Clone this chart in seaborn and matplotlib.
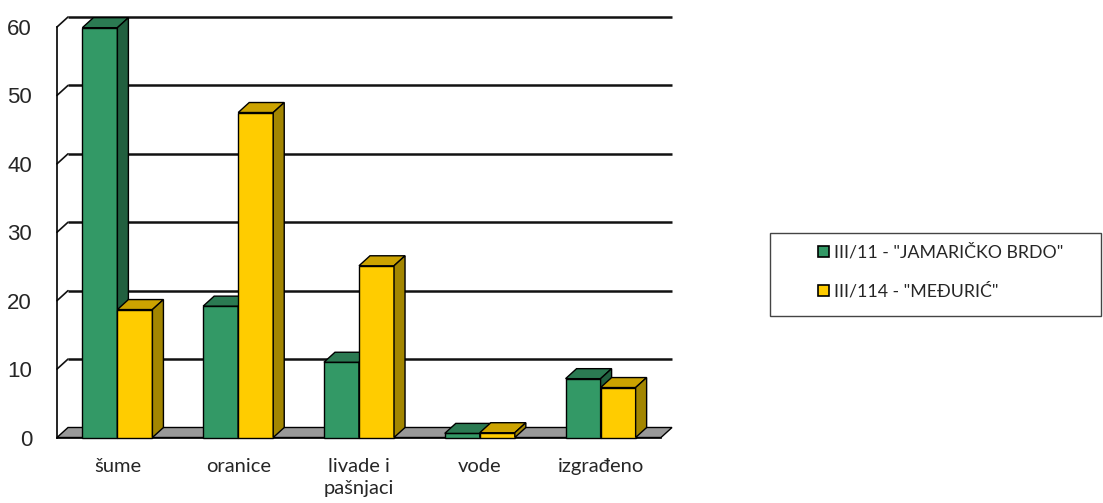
import pandas as pd
import matplotlib.pyplot as plt
import seaborn as sns
from matplotlib.patches import Polygon, Rectangle, Patch

# ---- Data (udio površina, %) ----
categories = ["šume", "oranice", "livade i\npašnjaci", "vode", "izgrađeno"]
series_names = ['III/11 - "JAMARIČKO BRDO"', 'III/114 - "MEĐURIĆ"']
jamaricko = [59.9, 19.2, 11.0, 0.6, 8.6]
meduric = [18.7, 47.5, 25.1, 0.7, 7.3]
y_ticks = [0, 10, 20, 30, 40, 50, 60]

df = pd.DataFrame({
    "kategorija": categories * 2,
    "udio": jamaricko + meduric,
    "zona": [series_names[0]] * len(categories) + [series_names[1]] * len(categories),
})

# front / top / side shades for the fake 3D look
front = ["#339966", "#FFCC00"]
top = ["#2B7A52", "#CCA300"]
side = ["#21603F", "#A38600"]

sns.set_style("white")
cat_font = ["Lato", "DejaVu Sans"]
num_font = ["Liberation Sans", "DejaVu Sans"]

fig = plt.figure(figsize=(11.03, 5.03), dpi=100)
ax = fig.add_axes([57 / 1103, 65.5 / 503, 604 / 1103, 410.5 / 503])

sns.barplot(data=df, x="kategorija", y="udio", hue="zona", palette=front,
            width=0.58, saturation=1, edgecolor="black", linewidth=1,
            legend=False, ax=ax)

ax.set_xlim(-0.5, len(categories) - 0.5)
ax.set_ylim(0, 60)

# depth offset in data units (about 11 px right, 10 px up)
dx = 11 / (604 / len(categories))
dy = 10 / (410.5 / 60)
x0, x1 = ax.get_xlim()

# floor
ax.add_patch(Polygon([(x0, 0), (x1, 0), (x1 + dx, dy), (x0 + dx, dy)],
                     closed=True, facecolor="#999999", edgecolor="black",
                     linewidth=1, zorder=1.5, clip_on=False))

# back wall gridlines + left wall diagonals
for yt in y_ticks[1:]:
    ax.plot([x0 + dx, x1 + dx], [yt + dy, yt + dy], color="#111111", lw=1.8,
            zorder=1, clip_on=False, solid_capstyle="butt")
    ax.plot([x0, x0 + dx], [yt, yt + dy], color="#111111", lw=1.2,
            zorder=1, clip_on=False)

# top and side faces for each bar
for rect in list(ax.patches):
    if not isinstance(rect, Rectangle):
        continue
    fc = rect.get_facecolor()
    idx = 0 if abs(fc[0] - 0.2) < 0.05 else 1
    bx, bw, bh = rect.get_x(), rect.get_width(), rect.get_height()
    z = 3 + idx
    rect.set_zorder(z)
    rect.set_clip_on(False)
    ax.add_patch(Polygon([(bx, bh), (bx + bw, bh), (bx + bw + dx, bh + dy), (bx + dx, bh + dy)],
                         closed=True, facecolor=top[idx], edgecolor="black",
                         linewidth=1, zorder=z, clip_on=False))
    ax.add_patch(Polygon([(bx + bw, 0), (bx + bw + dx, dy), (bx + bw + dx, bh + dy), (bx + bw, bh)],
                         closed=True, facecolor=side[idx], edgecolor="black",
                         linewidth=1, zorder=z, clip_on=False))

# axes styling
for s in ["top", "right"]:
    ax.spines[s].set_visible(False)
ax.spines["left"].set_color("black")
ax.spines["bottom"].set_color("black")
ax.spines["left"].set_linewidth(1.2)
ax.spines["bottom"].set_linewidth(1.2)
ax.spines["bottom"].set_zorder(2)

ax.set_yticks(y_ticks)
ax.set_yticklabels([str(v) for v in y_ticks], fontsize=16, family=num_font)
ax.tick_params(axis="y", direction="out", length=4, width=1.2, pad=14, color="black")

ax.set_xticks(range(len(categories)))
ax.set_xticklabels(categories, fontsize=14.5, family=cat_font, linespacing=1.3)
ax.set_xticks([i - 0.5 for i in range(len(categories) + 1)], minor=True)
ax.tick_params(axis="x", which="major", length=0, pad=15)
ax.tick_params(axis="x", which="minor", direction="out", length=8, width=1.2, color="black")
ax.set_xlabel("")
ax.set_ylabel("")
ax.grid(False)

# legend box
fig.patches.append(Rectangle((770 / 1103, 187 / 503), 331 / 1103, 83 / 503,
                             transform=fig.transFigure, facecolor="none",
                             edgecolor="#444444", linewidth=1))
handles = [Patch(facecolor=front[i], edgecolor="black", linewidth=1.2) for i in range(2)]
fig.legend(handles, series_names, loc="center left",
           bbox_to_anchor=(818 / 1103, 231 / 503), frameon=False,
           prop={"family": cat_font, "size": 12.8},
           handlelength=0.6, handleheight=0.6, handletextpad=0.3,
           labelspacing=1.25, borderpad=0, borderaxespad=0)

fig.savefig("out.png", dpi=100)
